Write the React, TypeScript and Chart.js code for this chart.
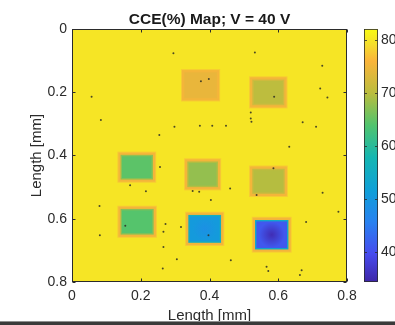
import React, { useEffect, useRef } from "react";
import { Chart, registerables } from "chart.js";

Chart.register(...registerables);

// ---------- data ----------
const chartTitle = "CCE(%) Map; V = 40 V";
const xAxisTitle = "Length [mm]";
const yAxisTitle = "Length [mm]";

const lengthTicks = [0, 0.2, 0.4, 0.6, 0.8];
const colorbarTicks = [40, 50, 60, 70, 80];
const colorbarMin = 34.3;
const colorbarMax = 82.1;

const backgroundCCE = 80;
const fringeCCE = 75.5;

// pixel pads: outer extents in mm
const padLeft = [0.32, 0.518, 0.135, 0.329, 0.518, 0.135, 0.332, 0.526];
const padRight = [0.428, 0.624, 0.242, 0.431, 0.625, 0.244, 0.44, 0.636];
const padTop = [0.13, 0.153, 0.391, 0.412, 0.435, 0.562, 0.581, 0.597];
const padBottom = [0.226, 0.248, 0.483, 0.507, 0.528, 0.657, 0.683, 0.704];
const padRimCCE = [74.5, 72, 67.5, 69.5, 71, 67, 56, 54];
const padCCE = [74.4, 70.2, 64.6, 67.8, 69.7, 64.2, 50.5, 41];
const padCenterCCE = [74.4, 70.2, 64.6, 67.8, 69.7, 64.2, 48.5, 35.3];

// dark defect specks
const defectX = [0.295, 0.532, 0.728, 0.375, 0.398, 0.057, 0.722, 0.743, 0.588, 0.52, 0.52, 0.522, 0.372, 0.408, 0.448, 0.298, 0.254, 0.084, 0.671, 0.71, 0.632, 0.256, 0.169, 0.215, 0.351, 0.37, 0.46, 0.537, 0.586, 0.729, 0.404, 0.08, 0.155, 0.272, 0.266, 0.317, 0.397, 0.681, 0.081, 0.266, 0.305, 0.264, 0.566, 0.571, 0.668, 0.663, 0.462, 0.775];
const defectY = [0.077, 0.074, 0.116, 0.165, 0.158, 0.214, 0.188, 0.217, 0.214, 0.264, 0.283, 0.293, 0.306, 0.306, 0.306, 0.309, 0.335, 0.288, 0.295, 0.309, 0.372, 0.436, 0.494, 0.513, 0.512, 0.515, 0.504, 0.525, 0.44, 0.518, 0.541, 0.56, 0.622, 0.617, 0.641, 0.626, 0.652, 0.61, 0.652, 0.689, 0.728, 0.757, 0.752, 0.765, 0.763, 0.778, 0.731, 0.578];

// ---------- style ----------
const FONT = "'Liberation Sans', Arial, Helvetica, sans-serif";
const TEXT = "#2b2b2b";
const FRAME = "#2b2b2b";
const cmapT = [0, 0.111, 0.238, 0.365, 0.492, 0.619, 0.746, 0.873, 0.937, 1];
const cmapRGB = [
  [62, 38, 168],
  [71, 75, 238],
  [40, 130, 240],
  [15, 160, 215],
  [20, 182, 178],
  [80, 196, 110],
  [186, 189, 62],
  [250, 180, 58],
  [245, 220, 45],
  [249, 251, 20],
];

function colour(v: number): string {
  let t = (v - colorbarMin) / (colorbarMax - colorbarMin);
  t = Math.max(0, Math.min(1, t));
  let i = 0;
  while (i < cmapT.length - 2 && t > cmapT[i + 1]) i++;
  const f = (t - cmapT[i]) / (cmapT[i + 1] - cmapT[i]);
  const a = cmapRGB[i];
  const b = cmapRGB[i + 1];
  const c = [0, 1, 2].map((k) => Math.round(a[k] + (b[k] - a[k]) * f));
  return `rgb(${c[0]},${c[1]},${c[2]})`;
}

const heatmapPlugin = {
  id: "heatmap",
  beforeDatasetsDraw(chart: any) {
    const { ctx, chartArea: a, scales } = chart;
    const xs = scales.x;
    const ys = scales.y;
    ctx.save();
    ctx.beginPath();
    ctx.rect(a.left, a.top, a.right - a.left, a.bottom - a.top);
    ctx.clip();
    const bx0 = xs.getPixelForValue(lengthTicks[0]);
    const bx1 = xs.getPixelForValue(lengthTicks[lengthTicks.length - 1]);
    const by0 = ys.getPixelForValue(lengthTicks[0]);
    const by1 = ys.getPixelForValue(lengthTicks[lengthTicks.length - 1]);
    ctx.fillStyle = colour(backgroundCCE);
    ctx.fillRect(Math.min(bx0, bx1), Math.min(by0, by1), Math.abs(bx1 - bx0), Math.abs(by1 - by0));

    ctx.filter = "blur(0.7px)";
    for (let i = 0; i < padCCE.length; i++) {
      const L = xs.getPixelForValue(padLeft[i]);
      const R = xs.getPixelForValue(padRight[i]);
      const T = ys.getPixelForValue(padTop[i]);
      const B = ys.getPixelForValue(padBottom[i]);
      // outer fringe
      ctx.fillStyle = colour((fringeCCE + backgroundCCE) / 2);
      ctx.fillRect(L - 1, T - 1, R - L + 2, B - T + 2);
      ctx.fillStyle = colour(fringeCCE);
      ctx.fillRect(L, T, R - L, B - T);
      // rim
      const r1 = 2.2;
      ctx.fillStyle = colour(padRimCCE[i]);
      ctx.fillRect(L + r1, T + r1, R - L - 2 * r1, B - T - 2 * r1);
      // core with center gradient
      const r2 = 3.6;
      const cx = (L + R) / 2;
      const cy = (T + B) / 2;
      const rad = Math.min(R - L, B - T) / 2;
      const g = ctx.createRadialGradient(cx, cy, 0, cx, cy, rad);
      g.addColorStop(0, colour(padCenterCCE[i]));
      g.addColorStop(0.75, colour(padCCE[i]));
      g.addColorStop(1, colour(padCCE[i]));
      ctx.fillStyle = g;
      ctx.fillRect(L + r2, T + r2, R - L - 2 * r2, B - T - 2 * r2);
    }
    ctx.filter = "none";
    ctx.restore();
  },
  afterDatasetsDraw(chart: any) {
    const { ctx, chartArea: a, scales } = chart;
    const xs = scales.x;
    const ys = scales.y;
    const cb = scales.cb;
    ctx.save();
    // plot frame
    ctx.strokeStyle = FRAME;
    ctx.lineWidth = 1;
    const l = Math.round(a.left) + 0.5;
    const r = Math.round(a.right) - 0.5;
    const t = Math.round(a.top) + 0.5;
    const b = Math.round(a.bottom) - 0.5;
    ctx.strokeRect(l, t, r - l, b - t);
    const tk = 3;
    ctx.beginPath();
    lengthTicks.forEach((v) => {
      const px = Math.round(xs.getPixelForValue(v)) + 0.5;
      ctx.moveTo(px, b); ctx.lineTo(px, b - tk);
      ctx.moveTo(px, t); ctx.lineTo(px, t + tk);
      const py = Math.round(ys.getPixelForValue(v)) + 0.5;
      ctx.moveTo(l, py); ctx.lineTo(l + tk, py);
      ctx.moveTo(r, py); ctx.lineTo(r - tk, py);
    });
    ctx.stroke();

    // colorbar
    const cx0 = cb.left + 17;
    const cx1 = cb.left + 31;
    const cTop = cb.getPixelForValue(colorbarMax);
    const cBot = cb.getPixelForValue(colorbarMin);
    const grad = ctx.createLinearGradient(0, cBot, 0, cTop);
    cmapT.forEach((tt) => {
      grad.addColorStop(tt, colour(colorbarMin + tt * (colorbarMax - colorbarMin)));
    });
    ctx.fillStyle = grad;
    ctx.fillRect(cx0, cTop, cx1 - cx0, cBot - cTop);
    ctx.strokeStyle = FRAME;
    ctx.lineWidth = 0.8;
    ctx.strokeRect(cx0 + 0.5, cTop + 0.5, cx1 - cx0 - 1, cBot - cTop - 1);
    ctx.beginPath();
    colorbarTicks.forEach((v) => {
      const py = Math.round(cb.getPixelForValue(v)) + 0.5;
      ctx.moveTo(cx1 - 0.5, py); ctx.lineTo(cx1 - 3, py);
      ctx.moveTo(cx0 + 0.5, py); ctx.lineTo(cx0 + 3, py);
    });
    ctx.stroke();
    ctx.restore();
  },
};

export default function App() {
  const ref = useRef<HTMLCanvasElement | null>(null);

  useEffect(() => {
    const canvas = ref.current;
    if (!canvas) return;
    const chart = new Chart(canvas, {
      type: "scatter",
      data: {
        datasets: [
          {
            label: "defects",
            data: defectX.map((x, i) => ({ x, y: defectY[i] })),
            pointRadius: 1,
            pointHoverRadius: 1,
            pointBorderWidth: 0,
            pointBackgroundColor: "rgba(45,45,35,0.85)",
            pointBorderColor: "rgba(0,0,0,0)",
          },
        ],
      },
      options: {
        responsive: false,
        animation: false,
        devicePixelRatio: 1,
        layout: { padding: 0 },
        plugins: {
          legend: { display: false },
          tooltip: { enabled: false },
          title: {
            display: true,
            text: chartTitle,
            fullSize: false,
            color: "#1a1a1a",
            font: { family: FONT, size: 15.5, weight: "bold", lineHeight: 1.16 },
            padding: { top: 11, bottom: 0 },
          },
        },
        scales: {
          x: {
            type: "linear",
            position: "bottom",
            min: 0,
            max: 0.8,
            afterBuildTicks: (axis: any) => {
              axis.ticks = lengthTicks.map((v) => ({ value: v }));
            },
            afterFit: (axis: any) => {
              axis.height = 43;
            },
            grid: { display: false, drawTicks: false },
            border: { display: false },
            ticks: {
              color: TEXT,
              padding: 6,
              maxRotation: 0,
              font: { family: FONT, size: 14 },
              callback: (v: any) => String(Number(v)),
            },
            title: {
              display: true,
              text: xAxisTitle,
              color: TEXT,
              font: { family: FONT, size: 15 },
              padding: { top: 0, bottom: 0 },
            },
          },
          y: {
            type: "linear",
            position: "left",
            reverse: true,
            min: 0,
            max: 0.8,
            afterBuildTicks: (axis: any) => {
              axis.ticks = lengthTicks.map((v) => ({ value: v }));
            },
            afterFit: (axis: any) => {
              axis.width = 72;
            },
            grid: { display: false, drawTicks: false },
            border: { display: false },
            ticks: {
              color: TEXT,
              padding: 5,
              font: { family: FONT, size: 14 },
              callback: (v: any) => String(Number(v)),
            },
            title: {
              display: true,
              text: yAxisTitle,
              color: TEXT,
              font: { family: FONT, size: 15 },
              padding: { top: 28, bottom: 0 },
            },
          },
          cb: {
            type: "linear",
            position: "right",
            min: colorbarMin,
            max: colorbarMax,
            afterBuildTicks: (axis: any) => {
              axis.ticks = colorbarTicks.map((v) => ({ value: v }));
            },
            afterFit: (axis: any) => {
              axis.width = 48;
            },
            grid: {
              display: true,
              drawOnChartArea: false,
              drawTicks: true,
              tickLength: 31,
              tickColor: "rgba(0,0,0,0)",
              color: "rgba(0,0,0,0)",
            },
            border: { display: false },
            ticks: {
              color: TEXT,
              padding: 3,
              font: { family: FONT, size: 14 },
              callback: (v: any) => String(Number(v)),
            },
          },
        },
      } as any,
      plugins: [heatmapPlugin],
    });
    return () => chart.destroy();
  }, []);

  return (
    <div
      style={{
        position: "fixed",
        left: 0,
        top: 0,
        width: 395,
        height: 325,
        background: "#ffffff",
        overflow: "hidden",
      }}
    >
      <canvas ref={ref} width={395} height={325} style={{ display: "block", width: 395, height: 325 }} />
      <div style={{ position: "absolute", left: 0, top: 321, width: 395, height: 1, background: "#8f8f8f" }} />
      <div style={{ position: "absolute", left: 0, top: 322, width: 395, height: 3, background: "#3a3a3a" }} />
    </div>
  );
}
